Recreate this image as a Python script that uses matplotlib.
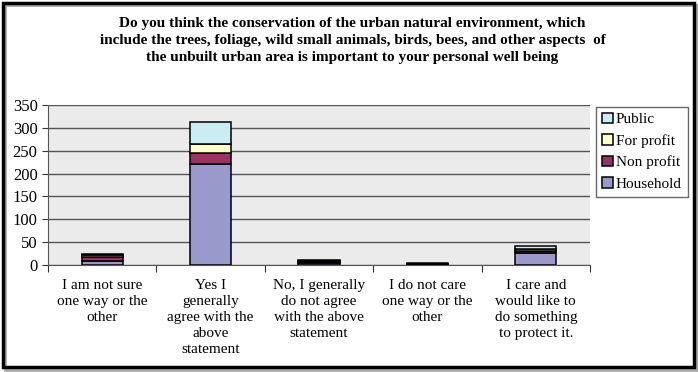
import matplotlib

matplotlib.use("Agg")
import matplotlib.pyplot as plt
import numpy as np
from matplotlib.patches import Rectangle
from matplotlib.transforms import offset_copy

# ---------------------------------------------------------------------------
# Data
# ---------------------------------------------------------------------------
categories = [
    "I am not sure\none way or the\nother",
    "Yes I\ngenerally\nagree with the\nabove\nstatement",
    "No, I generally\ndo not agree\nwith the above\nstatement",
    "I do not care\none way or the\nother",
    "I care and\nwould like to\ndo something\nto protect it.",
]
household = [8, 222, 4, 2, 27]
non_profit = [10, 23, 3, 1, 3]
for_profit = [3, 20, 2, 0, 4]
public = [2, 47, 3, 2, 8]

series_names = ["Household", "Non profit", "For profit", "Public"]
series_colors = ["#9999CC", "#993366", "#FFFFCC", "#CCECF4"]

title = ("Do you think the conservation of the urban natural environment, which\n"
         "include the trees, foliage, wild small animals, birds, bees, and other aspects  of\n"
         "the unbuilt urban area is important to your personal well being")

plt.rcParams["font.family"] = ["Liberation Serif", "DejaVu Serif"]

fig = plt.figure(figsize=(6.98, 3.72), dpi=100)
ax = fig.add_axes([48 / 698, 1 - 265 / 372, (590 - 48) / 698, 160 / 372])
ax.set_facecolor("#EBEBEB")

x = np.arange(len(categories))
bottom = np.zeros(len(categories))
handles = []
for vals, name, color in zip([household, non_profit, for_profit, public],
                             series_names, series_colors):
    vals = np.array(vals, dtype=float)
    h = ax.bar(x, vals, width=0.38, bottom=bottom, color=color,
               edgecolor="black", linewidth=1.1, label=name, zorder=3)
    handles.append(h)
    bottom += vals

ax.set_xlim(-0.5, len(categories) - 0.5)
ax.set_ylim(0, 350)
ax.set_yticks(range(0, 351, 50))
ax.yaxis.grid(True, color="#555555", linewidth=1.0, zorder=0)
ax.set_axisbelow(True)

# category boundaries get the tick marks, labels sit under the bars
ax.set_xticks(np.arange(-0.5, len(categories), 1.0))
ax.set_xticklabels([])
ax.tick_params(axis="x", length=5, color="#333333", direction="out")
lab_tr = offset_copy(ax.get_xaxis_transform(), fig=fig, y=-10, units="points")
for xi, lab in zip(x, categories):
    ax.text(xi, 0, lab, ha="center", va="top", fontsize=11, linespacing=1.3,
            transform=lab_tr, clip_on=False)

ax.tick_params(axis="y", labelsize=12, length=4, color="#333333")
for side in ["top", "right"]:
    ax.spines[side].set_visible(False)
ax.spines["left"].set_color("#555555")
ax.spines["bottom"].set_color("#555555")

leg = ax.legend(handles[::-1], series_names[::-1],
                loc="upper left", bbox_to_anchor=(548 / 542, 0.99),
                fontsize=11, frameon=True, fancybox=False, edgecolor="#444444",
                handlelength=0.7, handleheight=0.7, handletextpad=0.2,
                labelspacing=0.5, borderpad=0.4, borderaxespad=0)
leg.get_frame().set_linewidth(1.0)

fig.text(0.505, 0.955, title, ha="center", va="top", fontsize=11,
         fontweight="bold", linespacing=1.4)

# outer frame with a faint shadow
fig.patches.append(Rectangle((5 / 698, 1 - 370 / 372), 692 / 698, 365 / 372,
                             transform=fig.transFigure, fill=False,
                             edgecolor="#AAAAAA", linewidth=2))
fig.patches.append(Rectangle((3 / 698, 1 - 367 / 372), 691 / 698, 364 / 372,
                             transform=fig.transFigure, fill=False,
                             edgecolor="black", linewidth=2.5))

fig.savefig("out.png", dpi=100)
